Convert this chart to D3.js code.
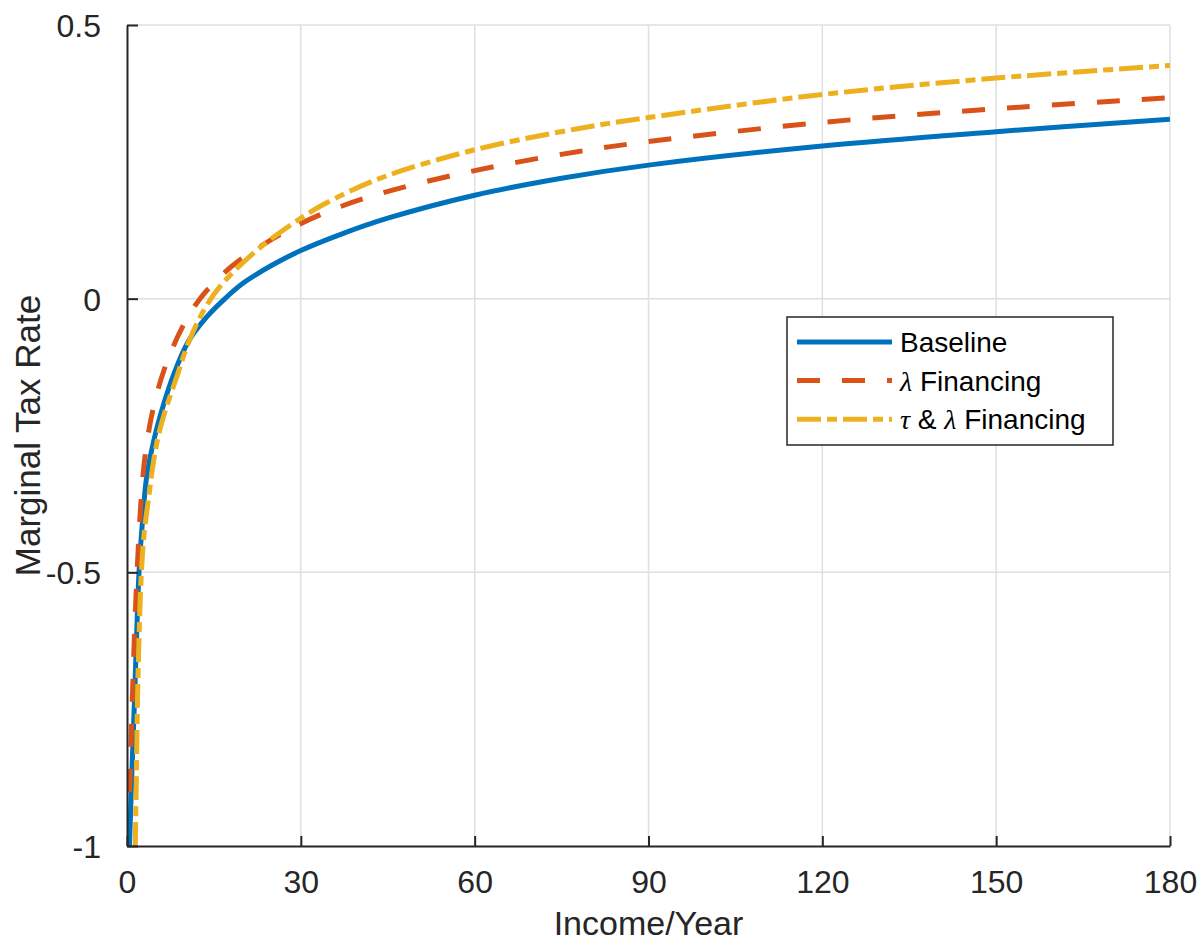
<!DOCTYPE html>
<html>
<head>
<meta charset="utf-8">
<script src="https://cdn.jsdelivr.net/npm/d3@7"></script>
<style>
  body { margin: 0; background: #fff; }
  text { font-family: "Liberation Sans", Arial, Helvetica, sans-serif; }
  .greek { font-family: "Liberation Serif", "DejaVu Serif", serif; font-style: italic; }
</style>
</head>
<body>
<div id="chart"></div>
<script>
// tick values
var xTicks = [0, 30, 60, 90, 120, 150, 180];
var yTicks = [-1, -0.5, 0, 0.5];
var yTickLabels = ["-1", "-0.5", "0", "0.5"];

// series
var baselineX = [0.43, 0.86, 1.29, 1.69, 2.07, 2.68, 3.4, 4.83, 6.26, 8.0, 10.6, 13.8, 16.5, 20, 25, 30, 37, 45, 60, 75, 90, 120, 150, 180];
var baselineY = [-1.0, -0.861, -0.734, -0.606, -0.5, -0.405, -0.325, -0.25, -0.195, -0.14, -0.078, -0.033, -0.004, 0.028, 0.061, 0.088, 0.118, 0.147, 0.189, 0.22, 0.244, 0.279, 0.305, 0.328];

var lambdaX = [0.4, 0.52, 0.74, 0.98, 1.24, 1.55, 1.93, 2.38, 3.09, 4.37, 6.44, 9.6, 12.6, 15.5, 18.9, 26.4, 33.9, 43.7, 60, 78, 90, 120, 150, 180];
var lambdaY = [-0.901, -0.88, -0.796, -0.712, -0.629, -0.545, -0.459, -0.375, -0.29, -0.208, -0.129, -0.051, 0.0, 0.034, 0.066, 0.117, 0.156, 0.192, 0.234, 0.269, 0.287, 0.322, 0.347, 0.367];

var tauLambdaX = [1.43, 1.61, 1.81, 2.07, 2.42, 2.93, 3.68, 4.54, 5.4, 6.39, 8.58, 10.58, 12.6, 14.5, 15.5, 17.8, 23.5, 30, 33.9, 43.7, 60, 78, 90, 120, 150, 180];
var tauLambdaY = [-1.0, -0.879, -0.733, -0.624, -0.514, -0.432, -0.368, -0.3, -0.251, -0.212, -0.143, -0.081, -0.034, 0.0, 0.015, 0.043, 0.098, 0.147, 0.172, 0.22, 0.272, 0.311, 0.331, 0.373, 0.403, 0.426];

var svgWidth = 1200;
var svgHeight = 943;

var margin = {
    top: 25,
    right: 30,
    bottom: 97,
    left: 127
};

var width = svgWidth - margin.left - margin.right;
var height = svgHeight - margin.top - margin.bottom;

var svg = d3
    .select("#chart")
    .append("svg")
    .attr("width", svgWidth)
    .attr("height", svgHeight);

var chartGroup = svg.append("g")
    .attr("transform", `translate(${margin.left}, ${margin.top})`);

var xScale = d3.scaleLinear().domain([0, 180]).range([0, width]);
var yScale = d3.scaleLinear().domain([-1, 0.5]).range([height, 0]);

var axisColor = "#262626";
var gridColor = "#dfdfdf";

// grid
chartGroup.append("g")
    .selectAll("line")
    .data(xTicks.slice(1))
    .enter()
    .append("line")
    .attr("x1", d => xScale(d))
    .attr("x2", d => xScale(d))
    .attr("y1", 0)
    .attr("y2", height)
    .attr("stroke", gridColor)
    .attr("stroke-width", 1.5);

chartGroup.append("g")
    .selectAll("line")
    .data(yTicks.slice(1))
    .enter()
    .append("line")
    .attr("x1", 0)
    .attr("x2", width)
    .attr("y1", d => yScale(d))
    .attr("y2", d => yScale(d))
    .attr("stroke", gridColor)
    .attr("stroke-width", 1.5);

// clip for lines
svg.append("defs").append("clipPath")
    .attr("id", "plotClip")
    .append("rect")
    .attr("x", 0)
    .attr("y", 0)
    .attr("width", width)
    .attr("height", height);

var series = [
    {xs: baselineX, ys: baselineY, color: "#0072BD", dash: null},
    {xs: lambdaX, ys: lambdaY, color: "#D95319", dash: "23,22"},
    {xs: tauLambdaX, ys: tauLambdaY, color: "#EDB120", dash: "24,6,10,6"}
];

var line = d3.line()
    .x(d => xScale(d[0]))
    .y(d => yScale(d[1]))
    .curve(d3.curveCatmullRom.alpha(0.5));

var linesGroup = chartGroup.append("g").attr("clip-path", "url(#plotClip)");

series.forEach(function(s) {
    var pts = s.xs.map((x, i) => [x, s.ys[i]]);
    linesGroup.append("path")
        .datum(pts)
        .attr("d", line)
        .attr("fill", "none")
        .attr("stroke", s.color)
        .attr("stroke-width", 5)
        .attr("stroke-dasharray", s.dash);
});

// axes (left + bottom only, ticks inward)
var bottomAxis = d3.axisBottom(xScale)
    .tickValues(xTicks)
    .tickSizeInner(-10)
    .tickSizeOuter(0)
    .tickPadding(24);

var leftAxis = d3.axisLeft(yScale)
    .tickValues(yTicks)
    .tickFormat((d, i) => yTickLabels[i])
    .tickSizeInner(-11)
    .tickSizeOuter(0)
    .tickPadding(26);

var xAxis = chartGroup.append("g")
    .attr("transform", `translate(0, ${height})`)
    .call(bottomAxis);

var yAxis = chartGroup.append("g")
    .call(leftAxis);

[xAxis, yAxis].forEach(function(ax) {
    ax.select(".domain").attr("stroke", axisColor).attr("stroke-width", 2);
    ax.selectAll(".tick line").attr("stroke", axisColor).attr("stroke-width", 2);
    ax.selectAll(".tick text")
        .attr("fill", axisColor)
        .style("font-size", "32px")
        .style("font-family", "'Liberation Sans', Arial, Helvetica, sans-serif");
});

xAxis.selectAll(".tick text").attr("dy", "0.71em");
yAxis.selectAll(".tick text").attr("dy", "0.36em");

// axis labels
chartGroup.append("text")
    .attr("x", width / 2)
    .attr("y", 935 - margin.top)
    .attr("text-anchor", "middle")
    .attr("fill", axisColor)
    .style("font-size", "34px")
    .text("Income/Year");

chartGroup.append("text")
    .attr("transform", "rotate(-90)")
    .attr("x", -height / 2)
    .attr("y", 40 - margin.left)
    .attr("text-anchor", "middle")
    .attr("fill", axisColor)
    .style("font-size", "35px")
    .text("Marginal Tax Rate");

// legend
var legendX = 787 - margin.left;
var legendY = 317 - margin.top;
var legendGroup = chartGroup.append("g")
    .attr("transform", `translate(${legendX}, ${legendY})`);

legendGroup.append("rect")
    .attr("x", 0)
    .attr("y", 0)
    .attr("width", 326)
    .attr("height", 128)
    .attr("fill", "#fff")
    .attr("stroke", axisColor)
    .attr("stroke-width", 1.5);

var legendParts = [
    [{t: "Baseline", g: false}],
    [{t: "λ", g: true}, {t: " Financing", g: false}],
    [{t: "τ", g: true}, {t: " & ", g: false}, {t: "λ", g: true}, {t: " Financing", g: false}]
];

series.forEach(function(s, i) {
    var rowY = 25 + i * 38.6;
    legendGroup.append("line")
        .attr("x1", 10)
        .attr("x2", 105)
        .attr("y1", rowY)
        .attr("y2", rowY)
        .attr("stroke", s.color)
        .attr("stroke-width", 5)
        .attr("stroke-dasharray", s.dash);

    var label = legendGroup.append("text")
        .attr("x", 113)
        .attr("y", rowY)
        .attr("dy", "0.36em")
        .attr("fill", "#000")
        .style("font-size", "28px");

    legendParts[i].forEach(function(p) {
        label.append("tspan")
            .attr("class", p.g ? "greek" : null)
            .style("white-space", "pre")
            .text(p.t);
    });
});
</script>
</body>
</html>
